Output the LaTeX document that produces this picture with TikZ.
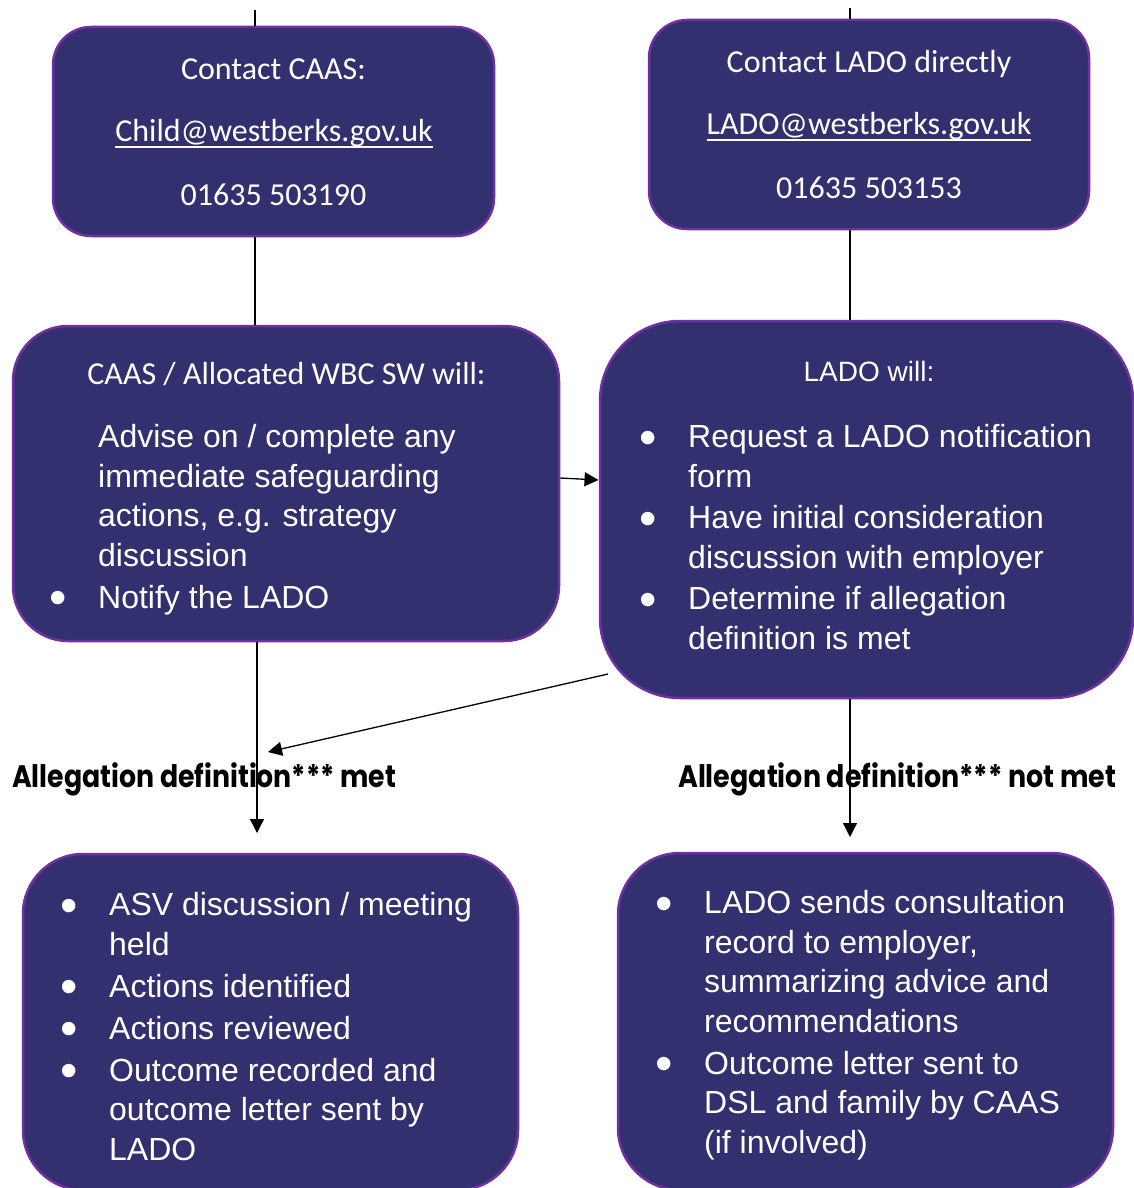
\documentclass[tikz,border=0pt]{standalone}
\usepackage{fontspec}
\usepackage{graphicx}
\setmainfont{Liberation Sans}
\newfontfamily\calfont{Carlito}
\newfontfamily\labfont{Poppins}
\usetikzlibrary{arrows.meta,calc}
\definecolor{boxfill}{RGB}{50,48,110}
\definecolor{boxline}{RGB}{112,48,160}
\newcommand\mybul{\llap{\makebox[49pt][l]{\smash{\raisebox{-6.5pt}{\scalebox{1.55}{•}}}}}}
\newcommand\myul[1]{{\setbox0\hbox{#1}\rlap{\rule[-6.5pt]{\wd0}{2.3pt}}\box0}}
\begin{document}
\begin{tikzpicture}[x=1pt,y=-1pt,
  box/.style={draw=boxline, line width=2.5pt, fill=boxfill, rectangle, inner sep=0pt},
  conn/.style={line width=1.3pt, black},
  arr/.style={conn, -{Triangle[length=14pt,width=14pt]}},
  hdr/.style={text=white, font=\calfont\fontsize{32}{38}\selectfont, inner sep=0pt, anchor=base},
  hdrb/.style={text=white, font=\fontsize{28}{34}\selectfont, inner sep=0pt, anchor=base},
  body/.style={text=white, font=\fontsize{32}{39.5}\selectfont, inner sep=0pt, align=left, anchor=north west},
  lab/.style={inner sep=0pt, anchor=base west, font=\labfont\bfseries\fontsize{31}{36}\selectfont}
]
\useasboundingbox (0,0) rectangle (1134,1188);
\fill[white] (0,0) rectangle (1134,1188);

% helper coordinates
\coordinate (topl) at (255,10);
\coordinate (topr) at (850,8);
\coordinate (h1) at (559,478);
\coordinate (h2) at (598.5,480);
\coordinate (al) at (257,833);
\coordinate (ar) at (850,837);
\coordinate (ds) at (608,674);
\coordinate (de) at (268,752);

% boxes
\node[box, rounded corners=38pt, minimum width=441pt, minimum height=209pt] (b1) at (273.5,131.5) {};
\node[box, rounded corners=38pt, minimum width=440pt, minimum height=209pt] (b2) at (869,124.5) {};
\node[box, rounded corners=55pt, minimum width=546pt, minimum height=315pt] (b3) at (286,483.5) {};
\node[box, rounded corners=80pt, minimum width=533pt, minimum height=377pt] (b4) at (866.5,509.5) {};
\node[box, rounded corners=60pt, minimum width=495pt, minimum height=336pt] (b5) at (270.5,1022) {};
\node[box, rounded corners=62pt, minimum width=495pt, minimum height=337pt] (b6) at (865.5,1021.5) {};

% connectors
\draw[conn] (topl) -- (b1.north -| topl);
\draw[conn] (topr) -- (b2.north -| topr);
\draw[conn] (b1.south -| topl) -- (b3.north -| topl);
\draw[conn] (b2.south -| topr) -- (b4.north -| topr);
\draw[arr] (b3.east |- h1) -- (h2);
\draw[arr] (b3.south -| al) -- (al);
\draw[arr] (b4.south -| ar) -- (ar);
\draw[arr] (ds) -- (de);

% box 1 text
\node[hdr] (t1a) at (273.5,80) {Contact CAAS:};
\node[hdr] (t1b) at (274,142) {\myul{Child@westberks.gov.uk}};
\node[hdr] (t1c) at (273.5,205) {01635 503190};
% box 2 text
\node[hdr] (t2a) at (869,73) {Contact LADO directly};
\node[hdr] (t2b) at (869,135) {\myul{LADO@westberks.gov.uk}};
\node[hdr] (t2c) at (869,198) {01635 503153};
% box 3 text
\node[hdr] (t3a) at (286.5,384) {CAAS / Allocated WBC SW will:};
\node[body] (t3b) at (98,419.85) {\strut Advise on / complete any\\immediate safeguarding\\actions, e.g. strategy\\discussion\\[2.5pt]\mybul Notify the LADO};
% box 4 text
\node[hdrb] (t4a) at (869,381) {LADO will:};
\node[body] (t4b) at (688,419.85) {\strut\mybul Request a LADO notification\\form\\[2pt]\mybul Have initial consideration\\discussion with employer\\[2pt]\mybul Determine if allegation\\definition is met};
% box 5 text
\node[body] (t5) at (109,887.85) {\strut\mybul ASV discussion / meeting\\held\\[2.5pt]\mybul Actions identified\\[2.5pt]\mybul Actions reviewed\\[2.5pt]\mybul Outcome recorded and\\outcome letter sent by\\LADO};
% box 6 text
\node[body] (t6) at (704,885.85) {\strut\mybul LADO sends consultation\\record to employer,\\summarizing advice and\\recommendations\\[2.5pt]\mybul Outcome letter sent to\\DSL and family by CAAS\\(if involved)};

% labels
\node[lab] (l1) at (12,787) {\resizebox{384pt}{\height}{Allegation definition*** met}};
\node[lab] (l2) at (678,787) {\resizebox{438pt}{\height}{Allegation definition*** not met}};
\end{tikzpicture}
\end{document}
